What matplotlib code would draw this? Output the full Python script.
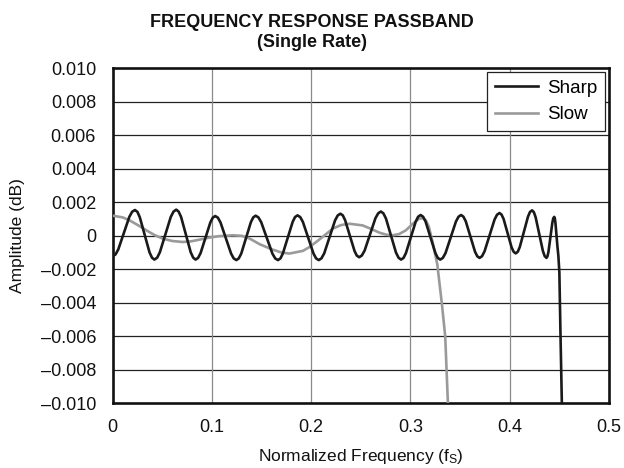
import numpy as np
import matplotlib
matplotlib.use("Agg")
import matplotlib.pyplot as plt

plt.rcParams['font.family'] = ['Liberation Sans', 'DejaVu Sans']
plt.rcParams['mathtext.fontset'] = 'custom'
plt.rcParams['mathtext.rm'] = 'Liberation Sans'
plt.rcParams['mathtext.it'] = 'Liberation Sans'

# ---- data (values in milli-dB) ----
sharp_freq = [
    0.0000, 0.0028, 0.0056, 0.0112, 0.0168, 0.0196,
    0.0224, 0.0249, 0.0273, 0.0322, 0.0371, 0.0396,
    0.0420, 0.0448, 0.0475, 0.0530, 0.0585, 0.0613,
    0.0640, 0.0664, 0.0689, 0.0738, 0.0786, 0.0811,
    0.0835, 0.0860, 0.0885, 0.0934, 0.0984, 0.1008,
    0.1033, 0.1060, 0.1086, 0.1140, 0.1193, 0.1219,
    0.1246, 0.1270, 0.1295, 0.1343, 0.1392, 0.1416,
    0.1440, 0.1468, 0.1496, 0.1553, 0.1609, 0.1637,
    0.1665, 0.1690, 0.1714, 0.1764, 0.1813, 0.1837,
    0.1862, 0.1889, 0.1916, 0.1969, 0.2023, 0.2049,
    0.2076, 0.2103, 0.2131, 0.2185, 0.2240, 0.2267,
    0.2294, 0.2318, 0.2341, 0.2389, 0.2436, 0.2459,
    0.2483, 0.2510, 0.2538, 0.2593, 0.2647, 0.2675,
    0.2702, 0.2727, 0.2753, 0.2804, 0.2854, 0.2880,
    0.2905, 0.2930, 0.2954, 0.3004, 0.3053, 0.3077,
    0.3102, 0.3127, 0.3152, 0.3201, 0.3251, 0.3275,
    0.3300, 0.3326, 0.3353, 0.3405, 0.3458, 0.3484,
    0.3510, 0.3533, 0.3557, 0.3603, 0.3650, 0.3673,
    0.3696, 0.3721, 0.3746, 0.3797, 0.3847, 0.3872,
    0.3897, 0.3917, 0.3938, 0.3979, 0.4019, 0.4040,
    0.4060, 0.4081, 0.4101, 0.4143, 0.4184, 0.4204,
    0.4225, 0.4243, 0.4261, 0.4298, 0.4334, 0.4352,
    0.4370, 0.4380, 0.4390, 0.4409, 0.4429, 0.4438,
    0.4448, 0.4454, 0.4460, 0.4470, 0.4480, 0.4490, 0.4500,
    0.4511, 0.4525, 0.4540,
]
sharp_mdb = [
    -1.22, -1.115, -0.817, 0.16, 1.137, 1.435,
    1.54, 1.428, 1.108, 0.06, -0.988, -1.308,
    -1.42, -1.307, -0.985, 0.07, 1.125, 1.447,
    1.56, 1.447, 1.125, 0.07, -0.985, -1.307,
    -1.42, -1.321, -1.04, -0.12, 0.80, 1.081,
    1.18, 1.08, 0.796, -0.135, -1.066, -1.35,
    -1.45, -1.349, -1.063, -0.125, 0.813, 1.099,
    1.20, 1.099, 0.813, -0.125, -1.063, -1.349,
    -1.45, -1.349, -1.06, -0.115, 0.83, 1.119,
    1.22, 1.119, 0.83, -0.115, -1.06, -1.349,
    -1.45, -1.345, -1.046, -0.065, 0.916, 1.215,
    1.32, 1.221, 0.94, 0.02, -0.90, -1.181,
    -1.28, -1.176, -0.881, 0.085, 1.051, 1.346,
    1.45, 1.341, 1.031, 0.015, -1.001, -1.311,
    -1.42, -1.319, -1.032, -0.09, 0.852, 1.139,
    1.24, 1.139, 0.852, -0.09, -1.032, -1.319,
    -1.42, -1.319, -1.032, -0.09, 0.852, 1.139,
    1.24, 1.143, 0.866, -0.04, -0.946, -1.223,
    -1.32, -1.218, -0.929, 0.02, 0.969, 1.258,
    1.36, 1.268, 1.008, 0.155, -0.698, -0.958,
    -1.05, -0.952, -0.675, 0.235, 1.145, 1.422,
    1.52, 1.412, 1.105, 0.10, -0.905, -1.212,
    -1.32, -1.227, -0.962, -0.095, 0.772, 1.037,
    1.13, 1.05, 0.80, 0.10, -0.60, -1.20, -2.20,
    -5.8, -10.0, -12.5,
]

slow_freq = [
    0.000, 0.010, 0.017, 0.025, 0.0338, 0.042, 0.0505, 0.060, 0.0706,
    0.079, 0.0873, 0.097, 0.1073, 0.1208, 0.130, 0.1375, 0.148, 0.160,
    0.170, 0.178, 0.1916, 0.198, 0.205, 0.2135, 0.2217, 0.230, 0.2385,
    0.2518, 0.260, 0.2686, 0.276, 0.282, 0.2885, 0.2954, 0.302, 0.3087,
    0.3125, 0.3155, 0.3185, 0.322, 0.327, 0.3317, 0.335, 0.3377, 0.339,
]
slow_mdb = [
    1.20, 1.10, 0.92, 0.65, 0.33, 0.05, -0.17, -0.31, -0.37,
    -0.33, -0.23, -0.11, -0.02, 0.03, 0.00, -0.15, -0.50, -0.80,
    -1.00, -1.06, -0.90, -0.68, -0.37, 0.03, 0.43, 0.64, 0.72,
    0.62, 0.42, 0.19, 0.06, 0.03, 0.10, 0.33, 0.70, 1.02,
    1.05, 0.92, 0.55, -0.30, -1.70, -4.1, -6.0, -10.0, -12.0,
]

x_ticks = [0, 0.1, 0.2, 0.3, 0.4, 0.5]
x_tick_labels = ["0", "0.1", "0.2", "0.3", "0.4", "0.5"]
y_ticks = [-0.010, -0.008, -0.006, -0.004, -0.002, 0, 0.002, 0.004, 0.006, 0.008, 0.010]
y_tick_labels = ["\u20130.010", "\u20130.008", "\u20130.006", "\u20130.004", "\u20130.002", "0",
                 "0.002", "0.004", "0.006", "0.008", "0.010"]

series_names = ["Sharp", "Slow"]

# ---- figure ----
fig = plt.figure(figsize=(6.24, 4.68), dpi=100)
W, H = 624, 468
left, right, top, bottom = 112.7, 609.0, 68.3, 403.3
ax = fig.add_axes([left / W, 1 - bottom / H, (right - left) / W, (bottom - top) / H])

sharp_db = np.array(sharp_mdb) * 1e-3
slow_db = np.array(slow_mdb) * 1e-3

ax.plot(sharp_freq, sharp_db, color="#1a1a1a", lw=1.9, label=series_names[0],
        solid_joinstyle="round", zorder=4)
ax.plot(slow_freq, slow_db, color="#9a9a9a", lw=1.9, label=series_names[1],
        solid_joinstyle="round", zorder=3)

ax.set_xlim(0, 0.5)
ax.set_ylim(-0.010, 0.010)
ax.set_xticks(x_ticks)
ax.set_xticklabels(x_tick_labels)
ax.set_yticks(y_ticks)
ax.set_yticklabels(y_tick_labels)
ax.tick_params(axis="both", length=0, labelsize=13, colors="#111111")
ax.tick_params(axis="x", pad=11)
ax.tick_params(axis="y", pad=12)

# grid: horizontal dark, vertical gray
for yv in y_ticks[1:-1]:
    ax.axhline(yv, color="#222222", lw=0.9, zorder=1)
for xv in x_ticks[1:-1]:
    ax.axvline(xv, color="#8a8a8a", lw=0.9, zorder=1)

for s in ax.spines.values():
    s.set_linewidth(1.9)
    s.set_color("#111111")

ax.set_xlabel(r"Normalized Frequency (f$_\mathrm{S}$)", fontsize=12.5, labelpad=8, color="#111111")
ax.set_ylabel("Amplitude (dB)", fontsize=12.5, labelpad=11, color="#111111")

fig.text(0.5, 1 - 14 / H, "FREQUENCY RESPONSE PASSBAND\n(Single Rate)", ha="center", va="top",
         fontsize=13, fontweight="bold", linespacing=1.2, color="#111111")

leg = ax.legend(loc="upper right", bbox_to_anchor=(0.992, 0.989), borderaxespad=0,
                fontsize=13.5, frameon=True, fancybox=False, framealpha=1,
                edgecolor="#222222", handlelength=2.3, handletextpad=0.5,
                labelspacing=0.5, borderpad=0.4)
leg.get_frame().set_linewidth(0.9)
leg.set_zorder(10)

fig.savefig("out.png", dpi=100)
